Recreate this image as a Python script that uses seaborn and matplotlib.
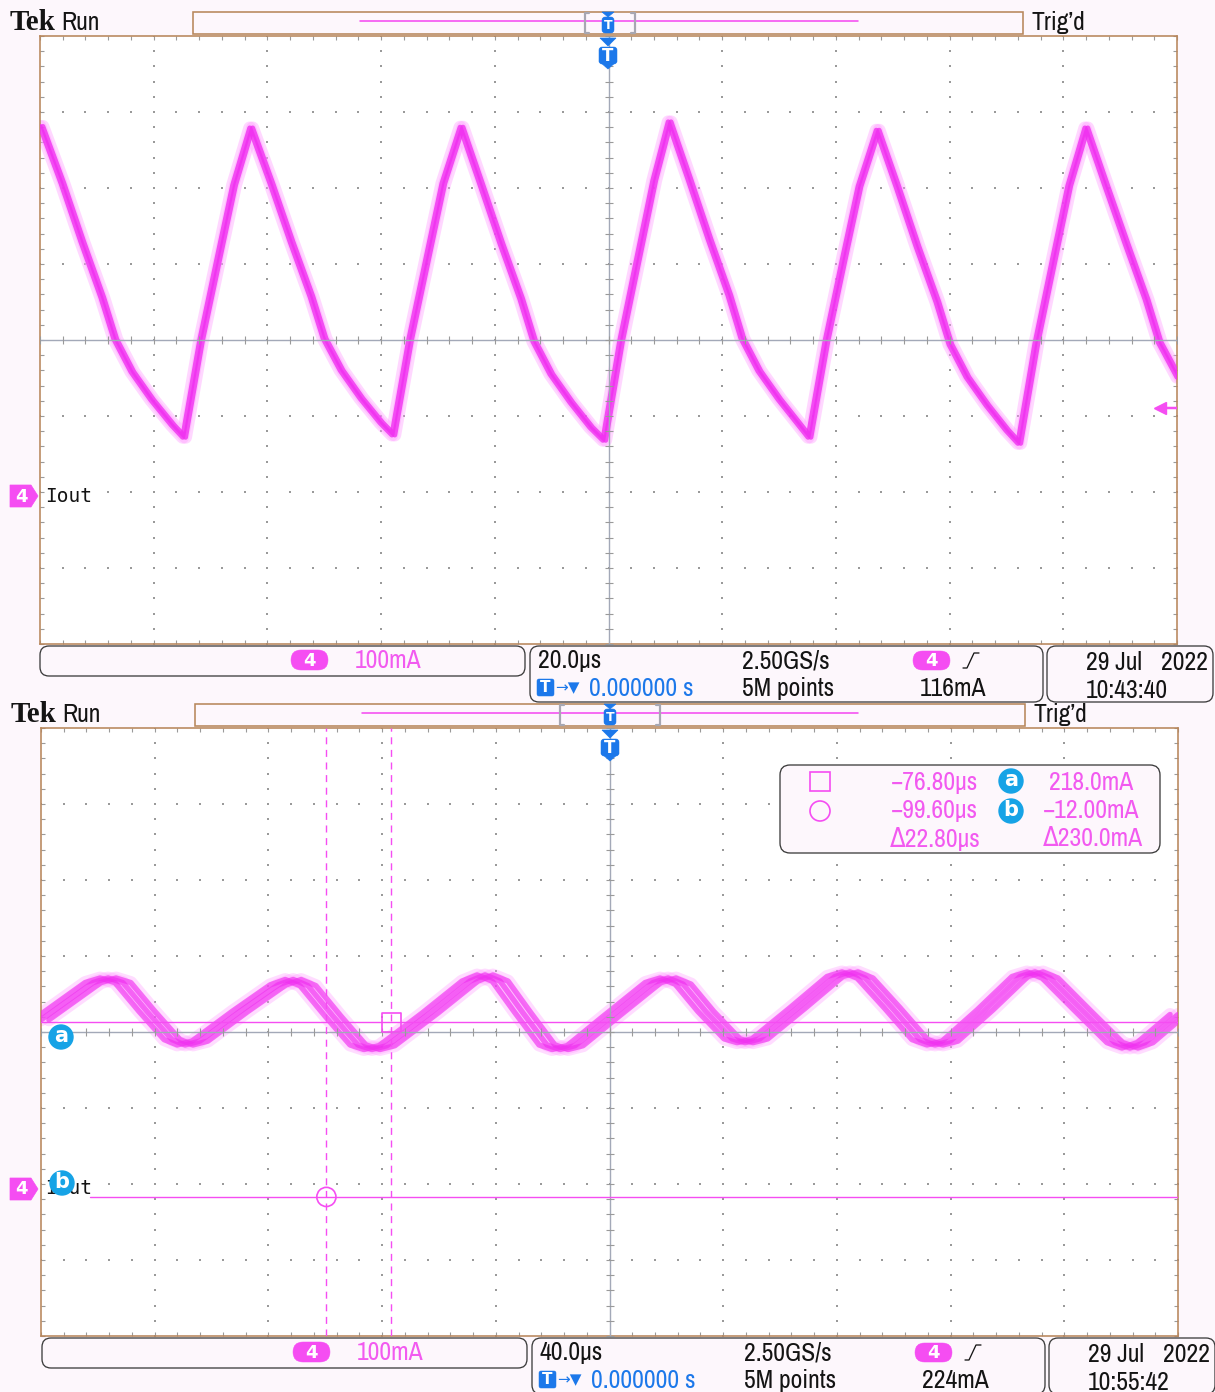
import numpy as np
import pandas as pd
import matplotlib
matplotlib.use("Agg")
import matplotlib.pyplot as plt
from matplotlib import font_manager as fm
from matplotlib.patches import FancyBboxPatch, Rectangle, Circle, Polygon
import seaborn as sns

# ---------------- captured waveforms ----------------
# Capture 1: 20 µs/div, 100 mA/div (time in µs, current in mA)
top_time_us = [
    -100.0, -96.3, -92.8, -89.3, -87.0, -84.0, -80.5, -76.9, -74.9,
    -71.9, -68.7, -66.1, -63.1,
    -59.5, -56.0, -52.5, -50.2, -47.2, -43.7, -40.2, -38.1,
    -35.1, -31.9, -29.3, -26.1,
    -22.6, -19.1, -15.6, -13.3, -10.3, -6.8, -3.3, -1.0,
    2.0, 5.2, 7.8, 10.5,
    14.0, 17.5, 21.0, 23.3, 26.3, 29.8, 33.3, 35.1,
    38.1, 41.3, 43.9, 47.1,
    50.6, 54.1, 57.6, 59.9, 62.9, 66.4, 69.9, 72.0,
    75.0, 78.2, 80.8, 83.8,
    87.3, 90.9, 94.4, 96.7, 100.0,
]
top_current_ma = [
    486, 411, 334, 261, 206, 163, 126, 93, 77,
    205, 318, 409, 484,
    410, 334, 262, 207, 165, 128, 96, 80,
    207, 320, 411, 485,
    409, 332, 259, 203, 160, 123, 90, 73,
    205, 321, 415, 492,
    416, 338, 264, 207, 164, 127, 94, 77,
    204, 317, 407, 481,
    406, 328, 255, 199, 156, 119, 86, 69,
    200, 315, 408, 484,
    408, 331, 258, 202, 156,
]
# persistence copies of the first capture (time shift, µs)
top_persist_us = [0.0, 0.5]

# Capture 2: 40 µs/div, 100 mA/div
bot_time_us = [
    -200.0, -181.7, -176.4, -171.2, -162.7, -153.9, -149.3, -144.1,
    -130.0, -116.6, -111.3, -106.1, -97.3, -88.5, -83.6, -78.3,
    -63.1, -49.1, -43.8, -38.5, -30.4, -22.0, -17.4, -12.1,
    0.0, 15.3, 20.6, 25.9, 33.9, 43.1, 47.7, 52.9,
    66.3, 79.3, 84.6, 89.9, 99.4, 109.2, 114.5, 119.8,
    132.1, 144.4, 149.7, 155.0, 166.2, 177.8, 183.1, 188.4, 200.0,
]
bot_current_ma = [
    221, 270, 276, 270, 232, 195, 188, 193,
    232, 267, 274, 266, 226, 188, 182, 187,
    230, 272, 280, 272, 230, 188, 182, 187,
    224, 270, 276, 268, 232, 196, 191, 196,
    237, 278, 284, 276, 237, 195, 188, 193,
    234, 278, 284, 276, 234, 191, 184, 191, 228,
]
# persistence copies of the second capture (time shift, µs)
bot_persist_us = [-2.8, 0.0, 2.8]

# acquisition settings shown in the status bars
time_per_div_us = [20.0, 40.0]
amp_per_div_ma = [100, 100]
screen_center_ma = [205, 205]
trigger_level_ma = [116, 224]
sample_rate = ["2.50GS/s", "2.50GS/s"]
record_length = ["5M points", "5M points"]
capture_day = ["29 Jul", "29 Jul"]
capture_year = ["2022", "2022"]
capture_clock = ["10:43:40", "10:55:42"]

# cursors on the second capture
cursor_time_us = [-76.80, -99.60]
cursor_current_ma = [218.0, -12.00]

# ---------------- styling ----------------
W, H = 1215, 1392
PX = 0.72
BG = '#FDF7FC'
BORDER = '#B8875C'
GRID = '#9A9A9A'
CENTER = '#A3A9B8'
TRACE = '#F02FF0'
HALO = '#FF9DFF'
CH4 = '#F54DF2'
CH4_TEXT = '#F25AF0'
BLUE = '#1C78EA'
CUR_BLUE = '#16A3E6'
BOX_EDGE = '#3A3A3A'
INK = '#141414'

sns.set_style("white")


def has_family(n):
    try:
        fm.findfont(fm.FontProperties(family=n), fallback_to_default=False)
        return True
    except Exception:
        return False


# prefer a narrow sans face for the instrument read-outs
SANS, STRETCH = None, 'normal'
for f in fm.fontManager.ttflist:
    nm = f.name
    if 'Mono' in nm or 'Serif' in nm or 'CJK' in nm:
        continue
    if 'Narrow' in nm or 'Condensed' in nm:
        SANS, STRETCH = nm, f.stretch
        break
if SANS is None:
    for f in fm.fontManager.ttflist:
        if f.name == 'DejaVu Sans' and str(f.stretch) in ('condensed', 'semi-condensed', '500'):
            SANS, STRETCH = 'DejaVu Sans', f.stretch
            break
if SANS is None:
    SANS = 'Liberation Sans' if has_family('Liberation Sans') else 'DejaVu Sans'
SERIF = 'Liberation Serif' if has_family('Liberation Serif') else 'DejaVu Serif'
MONO = 'DejaVu Sans Mono'
plt.rcParams['font.family'] = [SANS, 'DejaVu Sans']

fig = plt.figure(figsize=(W / 100, H / 100), dpi=100, facecolor=BG)
renderer = fig.canvas.get_renderer()

# scale the read-out font so "2.50GS/s" spans about 88 px
_probe = fig.text(0, 0, "2.50GS/s", fontsize=15, family=[SANS, 'DejaVu Sans'],
                  fontstretch=STRETCH)
_w = _probe.get_window_extent(renderer).width
_probe.remove()
FS = 15 * 88.0 / _w


def rect_px(l, t, r, b):
    return [l / W, 1 - b / H, (r - l) / W, (b - t) / H]


ov = fig.add_axes([0, 0, 1, 1], zorder=10)
ov.set_xlim(0, W)
ov.set_ylim(H, 0)
ov.axis('off')
ov.patch.set_alpha(0)


def put(x, y, s, size=None, color=INK, ha='left', va='center', family=None,
        weight='normal', z=8):
    size = FS if size is None else size
    if family:
        ov.text(x, y, s, fontsize=size, color=color, ha=ha, va=va,
                family=[family, 'DejaVu Sans'], fontweight=weight, zorder=z)
    else:
        ov.text(x, y, s, fontsize=size, color=color, ha=ha, va=va,
                family=[SANS, 'DejaVu Sans'], fontstretch=STRETCH,
                fontweight=weight, zorder=z)


def rbox(x0, y0, x1, y1, r=9, ec=BOX_EDGE, fc=BG, lw=1.3, z=5):
    ov.add_patch(FancyBboxPatch((x0 + r, y0 + r), (x1 - x0) - 2 * r, (y1 - y0) - 2 * r,
                                boxstyle=f"round,pad={r},rounding_size={r}",
                                ec=ec, fc=fc, lw=lw * PX, zorder=z))


def pill(x0, y0, x1, y1, label="4"):
    rbox(x0, y0, x1, y1, r=(y1 - y0) / 2, ec=CH4, fc=CH4, lw=0.5, z=6)
    put((x0 + x1) / 2, (y0 + y1) / 2 + 0.5, label, size=13, color='white',
        ha='center', weight='bold', family='DejaVu Sans', z=7)


def t_badge(x, y0, w, h, point=True, fs=12):
    rbox(x - w / 2, y0, x + w / 2, y0 + h, r=3, ec=BLUE, fc=BLUE, lw=0.5, z=6)
    if point:
        ov.add_patch(Polygon([(x - w / 2, y0 + h - 3), (x + w / 2, y0 + h - 3), (x, y0 + h + 5)],
                             closed=True, fc=BLUE, ec=BLUE, lw=0.5, zorder=6))
    put(x, y0 + h / 2 + 0.5, "T", size=fs, color='white', ha='center',
        weight='bold', family='DejaVu Sans', z=7)


def down_tri(x, y0, w, h):
    ov.add_patch(Polygon([(x - w / 2, y0), (x + w / 2, y0), (x, y0 + h)],
                         closed=True, fc=BLUE, ec=BLUE, lw=0.5, zorder=6))


def cur_dot(x, y, ch):
    ov.add_patch(Circle((x, y), 12, fc=CUR_BLUE, ec=CUR_BLUE, zorder=9))
    put(x, y - 1, ch, size=15, color='white', ha='center', weight='bold',
        family='DejaVu Sans', z=10)


def ch_tag(y):
    ov.add_patch(Polygon([(10, y - 11), (31, y - 11), (38, y), (31, y + 11), (10, y + 11)],
                         closed=True, fc=CH4, ec=CH4, lw=0.5, zorder=6))
    put(21, y + 0.5, "4", size=13, color='white', ha='center', weight='bold',
        family='DejaVu Sans', z=7)


# ---------------- scope grids and traces ----------------
def scope_axes(box, tdiv, center):
    l, t, r, b = box
    ax = fig.add_axes(rect_px(l, t, r, b), zorder=2)
    ax.set_facecolor('white')
    x0, x1 = -5 * tdiv, 5 * tdiv
    y0, y1 = center - 4 * 100, center + 4 * 100
    ax.set_xlim(x0, x1)
    ax.set_ylim(y0, y1)
    xmaj = np.linspace(x0, x1, 11)
    xmin = np.linspace(x0, x1, 51)
    ymaj = np.linspace(y0, y1, 9)
    ymin = np.linspace(y0, y1, 41)
    ax.set_xticks(xmaj)
    ax.set_xticks(xmin, minor=True)
    ax.set_yticks(ymaj)
    ax.set_yticks(ymin, minor=True)
    ax.tick_params(which='both', direction='in', top=True, right=True,
                   bottom=True, left=True, labelbottom=False, labelleft=False,
                   color=GRID, length=3.2, width=0.8)
    for s in ax.spines.values():
        s.set_color(BORDER)
        s.set_linewidth(1.6 * PX)
    # dotted graticule
    gx, gy = [], []
    for xm in xmaj[1:-1]:
        if abs(xm) < 1e-9:
            continue
        gx += [xm] * len(ymin)
        gy += list(ymin)
    for ym in ymaj[1:-1]:
        if abs(ym - center) < 1e-9:
            continue
        gx += list(xmin)
        gy += [ym] * len(xmin)
    ax.scatter(gx, gy, s=1.4, marker='s', color=GRID, lw=0, zorder=1)
    # centre cross with minor ticks
    ax.axhline(center, color=CENTER, lw=1.4 * PX, zorder=4)
    ax.axvline(0, color=CENTER, lw=1.4 * PX, zorder=4)
    ax.scatter(xmin, [center] * len(xmin), marker='|', s=26, color=GRID, lw=0.8, zorder=4)
    ax.scatter([0] * len(ymin), ymin, marker='_', s=26, color=GRID, lw=0.8, zorder=4)
    return ax


ax_top = scope_axes((40, 36, 1177, 644), time_per_div_us[0], screen_center_ma[0])
ax_bot = scope_axes((41, 728, 1178, 1336), time_per_div_us[1], screen_center_ma[1])


def draw_trace(ax, times, currents, shifts, halo_w, core_w, halo_a, core_a):
    df = pd.DataFrame({'t': times, 'i': currents})
    for shift in shifts:
        d = df.assign(t=df['t'] + shift)
        sns.lineplot(data=d, x='t', y='i', sort=False, estimator=None, ax=ax,
                     color=HALO, lw=halo_w * PX, alpha=halo_a, zorder=2)
    for shift in shifts:
        d = df.assign(t=df['t'] + shift)
        sns.lineplot(data=d, x='t', y='i', sort=False, estimator=None, ax=ax,
                     color=TRACE, lw=core_w * PX, alpha=core_a, zorder=3)
    ax.set_xlabel('')
    ax.set_ylabel('')


draw_trace(ax_top, top_time_us, top_current_ma, top_persist_us, 13, 5, 0.4, 0.8)
draw_trace(ax_bot, bot_time_us, bot_current_ma, bot_persist_us, 13, 5.5, 0.35, 0.65)

# trigger level marker on the first capture
ax_top.plot([97.0], [trigger_level_ma[0]], marker='<', ms=8, color=CH4, zorder=6, clip_on=False)
ax_top.plot([97.0, 100.0], [trigger_level_ma[0]] * 2, color=CH4, lw=2.5 * PX, zorder=6)

# cursors on the second capture
ax_bot.axhline(cursor_current_ma[0], color=CH4, lw=1.4 * PX, zorder=5)
ax_bot.plot([-182.8, 200.0], [cursor_current_ma[1]] * 2, color=CH4, lw=1.4 * PX, zorder=5)
for ct in cursor_time_us:
    ax_bot.axvline(ct, color=CH4, lw=1.4 * PX, ls=(0, (5, 4)), zorder=5)
ax_bot.scatter([cursor_time_us[0]], [cursor_current_ma[0]], marker='s', s=190,
               facecolor='none', edgecolor=CH4, lw=1.2, zorder=6)
ax_bot.scatter([cursor_time_us[1]], [cursor_current_ma[1]], marker='o', s=190,
               facecolor='none', edgecolor=CH4, lw=1.2, zorder=6)


# ---------------- header, status bars and readouts ----------------
def header(dy, tek_x, bar_l, bar_r, brk_l, brk_r, tx, line_l, line_r, trig_x):
    put(tek_x, 22 + dy, "Tek", size=21, family=SERIF, weight='bold', color=INK)
    put(tek_x + 51, 22 + dy, "Run")
    ov.add_patch(Rectangle((bar_l, 12 + dy), bar_r - bar_l, 22, fc=BG, ec=BORDER,
                           lw=1.6 * PX, zorder=5))
    ov.plot([line_l, line_r], [21 + dy] * 2, color=CH4, lw=1.6 * PX, zorder=6)
    ov.plot([brk_l + 4, brk_l, brk_l, brk_l + 4], [13 + dy, 13 + dy, 33 + dy, 33 + dy],
            color='#A7A7B2', lw=2.2 * PX, zorder=6)
    ov.plot([brk_r - 4, brk_r, brk_r, brk_r - 4], [13 + dy, 13 + dy, 33 + dy, 33 + dy],
            color='#A7A7B2', lw=2.2 * PX, zorder=6)
    down_tri(tx, 12 + dy, 12, 5)
    t_badge(tx, 17 + dy, 12, 16, point=False, fs=9)
    put(trig_x, 22 + dy, "Trig’d")
    down_tri(tx, 38 + dy, 16, 8)
    t_badge(tx, 47 + dy, 18, 17, point=True, fs=12)


def status(dy, dx, k):
    rbox(40 + dx, 646 + dy, 525 + dx, 676 + dy)
    pill(291 + dx, 650 + dy, 328 + dx, 670 + dy)
    put(355 + dx, 661 + dy, f"{amp_per_div_ma[k]}mA", color=CH4_TEXT)
    rbox(530 + dx, 646 + dy, 1043 + dx, 702 + dy)
    put(538 + dx, 661 + dy, f"{time_per_div_us[k]:.1f}µs")
    rbox(537 + dx, 679 + dy, 554 + dx, 696 + dy, r=2, ec=BLUE, fc=BLUE, lw=0.5, z=6)
    put(545.5 + dx, 688 + dy, "T", size=11, color='white', ha='center', weight='bold',
        family='DejaVu Sans', z=7)
    put(555 + dx, 688 + dy, "→▼", size=11, color=BLUE, family='DejaVu Sans')
    put(589 + dx, 688 + dy, "0.000000 s", color=BLUE)
    put(742 + dx, 661 + dy, sample_rate[k])
    put(742 + dx, 688 + dy, record_length[k])
    pill(913 + dx, 651 + dy, 950 + dx, 670 + dy)
    ov.plot(np.array([963, 967, 974, 979]) + dx, np.array([668, 668, 653, 653]) + dy,
            color=INK, lw=1.3 * PX, zorder=7)
    put(920 + dx, 688 + dy, f"{trigger_level_ma[k]}mA")
    rbox(1047 + dx, 646 + dy, 1213 + dx, 702 + dy)
    put(1086 + dx, 663 + dy, capture_day[k])
    put(1208 + dx, 663 + dy, capture_year[k], ha='right')
    put(1086 + dx, 690 + dy, capture_clock[k])


header(0, 10, 193, 1023, 585, 635, 608, 360, 858, 1032)
header(692, 11, 195, 1025, 560, 660, 610, 362, 858, 1034)
status(0, 0, 0)
status(692, 2, 1)

# channel labels
ch_tag(496)
put(45, 496, "Iout", size=14, family=MONO)
ch_tag(1189)
put(45, 1189, "Iout", size=14, family=MONO)

# cursor level markers
cur_dot(61, 1037, "a")
cur_dot(62, 1183, "b")

# cursor readout panel
rbox(780, 765, 1160, 853, r=10)
ov.add_patch(Rectangle((810, 772), 20, 19, fc='none', ec=CH4, lw=1.2, zorder=7))
ov.add_patch(Circle((820, 811), 10, fc='none', ec=CH4, lw=1.2, zorder=7))
dt = cursor_time_us[0] - cursor_time_us[1]
di = cursor_current_ma[0] - cursor_current_ma[1]


def fmt_signed(v, digits, unit):
    s = f"{abs(v):.{digits}f}{unit}"
    return ("−" + s) if v < 0 else s


put(978, 782, fmt_signed(cursor_time_us[0], 2, "µs"), color=CH4_TEXT, ha='right')
put(978, 811, fmt_signed(cursor_time_us[1], 2, "µs"), color=CH4_TEXT, ha='right')
put(981, 839, f"Δ{dt:.2f}µs", color=CH4_TEXT, ha='right')
cur_dot(1011, 781, "a")
cur_dot(1011, 811, "b")
put(1091, 782, fmt_signed(cursor_current_ma[0], 1, "mA"), color=CH4_TEXT, ha='center')
put(1091, 811, fmt_signed(cursor_current_ma[1], 2, "mA"), color=CH4_TEXT, ha='center')
put(1093, 839, f"Δ{di:.1f}mA", color=CH4_TEXT, ha='center')

fig.savefig("out.png", dpi=100, facecolor=BG)
